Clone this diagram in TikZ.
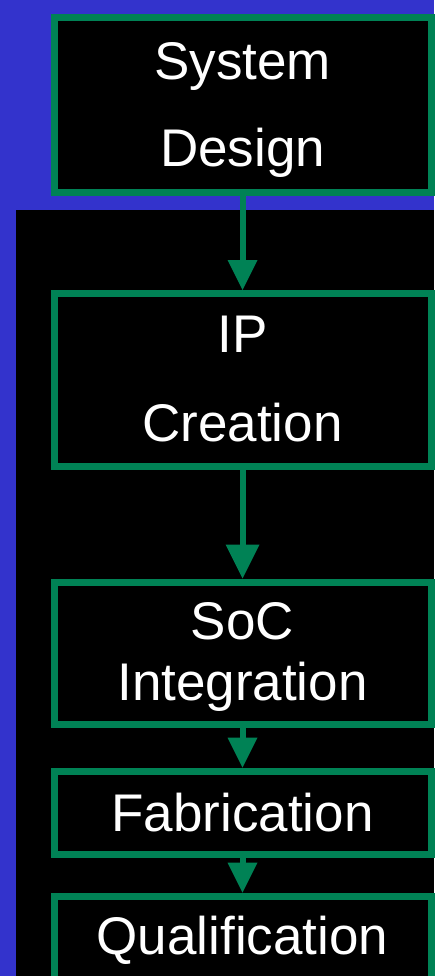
\documentclass[tikz,border=0pt]{standalone}
\usepackage{fontspec}
\setmainfont{Liberation Sans}
\usetikzlibrary{arrows.meta}
\definecolor{slideblue}{RGB}{51,51,204}
\definecolor{flowgreen}{RGB}{0,130,85}
\begin{document}
\begin{tikzpicture}[x=1pt,y=-1pt,
  stage/.style={rectangle, draw=flowgreen, line width=7pt, fill=black,
    inner sep=0pt, minimum width=377pt},
  steptext/.style={text=white, font=\fontsize{53}{60}\selectfont,
    anchor=base, inner sep=0pt},
  flow/.style={draw=flowgreen, line width=6pt,
    -{Triangle[length=30pt,width=30pt,line width=0pt]}},
  bigflow/.style={flow, -{Triangle[length=34pt,width=34pt,line width=0pt]}}]
  % page background
  \useasboundingbox (0,0) rectangle (434,976);
  \fill[slideblue] (0,0) rectangle (434,976);
  \fill[black] (16,210) rectangle (434,976);

  % process stages
  \node[stage, minimum height=174.5pt] (sys) at (242.5,105.25) {};
  \node[stage, minimum height=172.5pt] (ip)  at (242.5,379.75) {};
  \node[stage, minimum height=142.7pt] (soc) at (242.5,653.35) {};
  \node[stage, minimum height=83.5pt]  (fab) at (242.5,812.75) {};
  \node[stage, minimum height=83pt]    (qual) at (242.5,937.5) {};

  % stage titles
  \node[steptext] (sysA) at (242.5,79.5) {System};
  \node[steptext] (sysB) at (242.5,167) {Design};
  \node[steptext] (ipA)  at (242.5,352.3) {IP};
  \node[steptext] (ipB)  at (242.5,441.3) {Creation};
  \node[steptext] (socA) at (242.5,639.8) {SoC};
  \node[steptext] (socB) at (242.5,700) {Integration};
  \node[steptext] (fabA) at (242.5,831.7) {Fabrication};
  \node[steptext] (qualA) at (242.5,954) {Qualification};

  % flow between stages
  \draw[flow] (sys.south) -- (ip.north);
  \draw[bigflow] (ip.south) -- (soc.north);
  \draw[flow] (soc.south) -- (fab.north);
  \draw[flow] (fab.south) -- (qual.north);
\end{tikzpicture}
\end{document}
